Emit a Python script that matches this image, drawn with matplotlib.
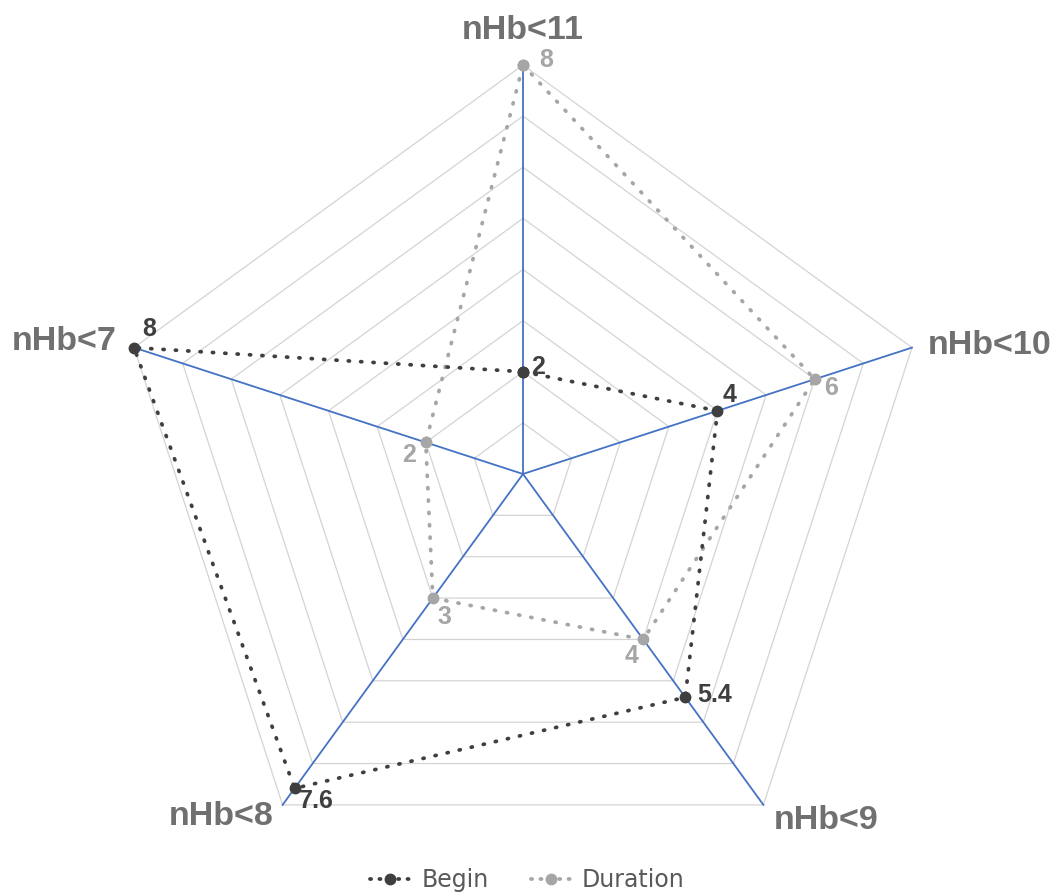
import numpy as np
import matplotlib
matplotlib.use('Agg')
import matplotlib.pyplot as plt
from matplotlib.lines import Line2D

# ---- data ----
categories = ['nHb<11', 'nHb<10', 'nHb<9', 'nHb<8', 'nHb<7']
begin = [2, 4, 5.4, 7.6, 8]
duration = [8, 6, 4, 3, 2]
begin_labels = ['2', '4', '5.4', '7.6', '8']
duration_labels = ['8', '6', '4', '3', '2']
ring_values = [1, 2, 3, 4, 5, 6, 7, 8]
r_max = 8
series_names = ['Begin', 'Duration']

# ---- style / layout ----
W, H = 1057, 893
cx, cy, R = 523, 474, 409
c_begin = '#3f3f3f'
c_dur = '#a6a6a6'
c_axis = '#4472C4'
c_grid = '#d4d4d4'
c_cat = '#707070'
dot_style = (0, (0.3, 3.0))

begin_offsets = [(15, 5), (12, 16), (29, 2), (22, -13), (15, 19)]
dur_offsets = [(23, 5), (16, -9), (-12, -17), (12, -19), (-17, -13)]
cat_offsets = [((0, 34), 'center'), ((16, 2), 'left'), ((10, -16), 'left'),
               ((-9, -12), 'right'), ((-17, 6), 'right')]

fig = plt.figure(figsize=(W / 100, H / 100), dpi=100)
ax = fig.add_axes([(cx - R) / W, (H - cy - R) / H, 2 * R / W, 2 * R / H],
                  projection='polar')
ax.set_theta_offset(np.pi / 2)
ax.set_theta_direction(-1)
ax.set_ylim(0, r_max)
ax.axis('off')

n = len(categories)
theta = np.arange(n) * 2 * np.pi / n
theta_c = np.append(theta, theta[0])

# grid rings
for v in ring_values:
    ax.plot(theta_c, [v] * (n + 1), color=c_grid, lw=0.9, zorder=1, clip_on=False)
# spokes (blue)
for t in theta:
    ax.plot([t, t], [0, r_max], color=c_axis, lw=1.3, zorder=2, clip_on=False)

ax.plot(theta_c, begin + [begin[0]], color=c_begin, lw=2.7, linestyle=dot_style,
        dash_capstyle='round', marker='o', ms=7.5, zorder=4, clip_on=False)
ax.plot(theta_c, duration + [duration[0]], color=c_dur, lw=2.7, linestyle=dot_style,
        dash_capstyle='round', marker='o', ms=7.5, zorder=3, clip_on=False)

lab_font = dict(family=['Liberation Sans', 'DejaVu Sans'], weight='bold', size=18)
for t, v, s, off in zip(theta, begin, begin_labels, begin_offsets):
    ax.annotate(s, (t, v), xytext=off, textcoords='offset pixels', ha='center',
                va='center', color=c_begin, zorder=6, **lab_font)
for t, v, s, off in zip(theta, duration, duration_labels, dur_offsets):
    ax.annotate(s, (t, v), xytext=off, textcoords='offset pixels', ha='center',
                va='center', color=c_dur, zorder=6, **lab_font)

for t, s, (off, ha) in zip(theta, categories, cat_offsets):
    ax.annotate(s, (t, r_max), xytext=off, textcoords='offset pixels', ha=ha,
                va='center', color=c_cat, family=['Liberation Sans', 'DejaVu Sans'],
                weight='bold', size=24.5)

handles = [
    Line2D([], [], color=c_begin, lw=2.7, linestyle=(0, (0.3, 2.2)),
           dash_capstyle='round', marker='o', ms=7.5),
    Line2D([], [], color=c_dur, lw=2.7, linestyle=(0, (0.3, 2.2)),
           dash_capstyle='round', marker='o', ms=7.5),
]
fig.legend(handles, series_names, loc='center', bbox_to_anchor=(0.499, 1 - 880 / H),
           ncol=2, frameon=False, handlelength=1.7, handletextpad=0.45,
           columnspacing=1.8, prop=dict(family='DejaVu Sans', size=17),
           labelcolor='#595959')

fig.savefig('out.png', dpi=100)
